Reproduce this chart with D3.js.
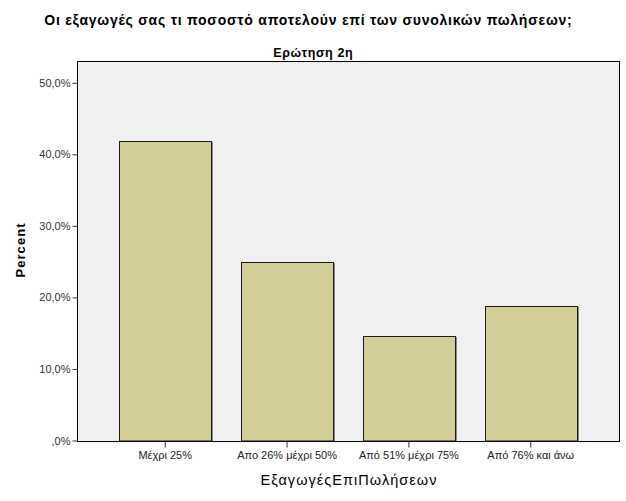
<!DOCTYPE html>
<html><head><meta charset="utf-8">
<script src="https://cdn.jsdelivr.net/npm/d3@7"></script>
<style>
html,body{margin:0;padding:0;background:#fff;}
svg{display:block;}
text{font-family:"Liberation Sans",Arial,sans-serif;}
</style></head>
<body>
<svg id="chart" width="626" height="501"></svg>
<script>
const title = "Οι εξαγωγές σας τι ποσοστό αποτελούν επί των συνολικών πωλήσεων;";
const subtitle = "Ερώτηση 2η";
const xTitle = "ΕξαγωγέςΕπιΠωλήσεων";
const yTitle = "Percent";
const categories = ["Μέχρι 25%", "Απο 26% μέχρι 50%", "Από 51% μέχρι 75%", "Από 76% και άνω"];
const percents = [41.9, 25.0, 14.6, 18.8];
const yTicks = [0, 10, 20, 30, 40, 50];
const yTickLabels = [",0%", "10,0%", "20,0%", "30,0%", "40,0%", "50,0%"];

const svg = d3.select("#chart");
const plot = {left: 77, right: 619, top: 61, bottom: 441};

const x = d3.scaleBand().domain(categories).range([plot.left, plot.right])
  .paddingInner(0.248).paddingOuter(0.348);
const y = d3.scaleLinear().domain([0, 50]).range([440.5, 82.8]);

// plot background
svg.append("rect")
  .attr("x", plot.left + 0.5).attr("y", plot.top + 0.5)
  .attr("width", plot.right - plot.left).attr("height", plot.bottom - plot.top)
  .attr("fill", "#f0f0f0").attr("stroke", "#000").attr("stroke-width", 1);

// bars shadow
svg.append("g").selectAll("rect").data(percents).join("rect")
  .attr("x", (d, i) => Math.round(x(categories[i])) + 1.5)
  .attr("y", d => Math.round(y(d)) + 1.5)
  .attr("width", Math.round(x.bandwidth()))
  .attr("height", d => y(0) - Math.round(y(d)) - 1)
  .attr("fill", "none").attr("stroke", "#8a8a8a").attr("stroke-width", 1);

// bars
svg.append("g").selectAll("rect").data(percents).join("rect")
  .attr("x", (d, i) => Math.round(x(categories[i])) + 0.5)
  .attr("y", d => Math.round(y(d)) + 0.5)
  .attr("width", Math.round(x.bandwidth()))
  .attr("height", d => y(0) - Math.round(y(d)))
  .attr("fill", "#d3ce97").attr("stroke", "#1a1a1a").attr("stroke-width", 1);

// bottom axis line
svg.append("line").attr("x1", plot.left).attr("x2", plot.right + 1)
  .attr("y1", plot.bottom + 0.5).attr("y2", plot.bottom + 0.5)
  .attr("stroke", "#000");

// y axis
const yAxis = d3.axisLeft(y).tickValues(yTicks).tickSize(5).tickPadding(2)
  .tickFormat((d, i) => yTickLabels[i]);
const gy = svg.append("g").attr("transform", `translate(${plot.left + 0.5},0)`).call(yAxis);
gy.select(".domain").remove();
gy.selectAll(".tick line").attr("stroke", "#333");
gy.selectAll(".tick text").attr("font-size", 11).attr("fill", "#333")
  .style("font-family", '"Liberation Sans",Arial,sans-serif');

// x axis
const xAxis = d3.axisBottom(x).tickSize(6).tickPadding(4);
const gx = svg.append("g").attr("transform", `translate(0,${plot.bottom + 0.5})`).call(xAxis);
gx.select(".domain").remove();
gx.selectAll(".tick line").attr("stroke", "#333");
gx.selectAll(".tick text").attr("font-size", 11).attr("fill", "#222")
  .style("font-family", '"Liberation Sans",Arial,sans-serif');

// spread text to a target width with letter-spacing
function fit(sel, target) {
  const node = sel.node();
  const n = sel.text().length;
  const w = node.getComputedTextLength();
  const ls = (target - w) / n;
  sel.attr("letter-spacing", ls.toFixed(2));
  sel.attr("dx", (ls / 2).toFixed(2));
  return sel;
}

// titles
fit(svg.append("text").attr("x", 308).attr("y", 25).attr("text-anchor", "middle")
  .attr("font-size", 14).attr("font-weight", "bold").attr("fill", "#000").text(title), 528);
fit(svg.append("text").attr("x", 313).attr("y", 57).attr("text-anchor", "middle")
  .attr("font-size", 12.5).attr("font-weight", "bold").attr("fill", "#000").text(subtitle), 80);
fit(svg.append("text").attr("x", 348.5).attr("y", 485).attr("text-anchor", "middle")
  .attr("font-size", 14.5).attr("fill", "#000").text(xTitle), 177);
fit(svg.append("text").attr("transform", "translate(25,250.5) rotate(-90)").attr("text-anchor", "middle")
  .attr("font-size", 13).attr("font-weight", "bold").attr("fill", "#000").text(yTitle), 55);
</script>
</body></html>
